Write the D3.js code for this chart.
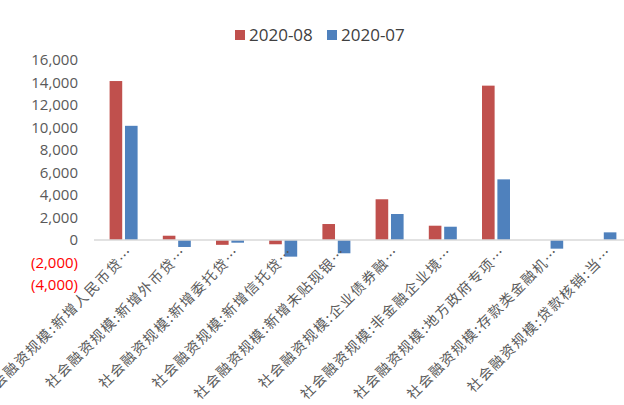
<!DOCTYPE html>
<html>
<head>
<meta charset="utf-8">
<script src="https://cdn.jsdelivr.net/npm/d3@7"></script>
<style>
  html, body { margin: 0; padding: 0; background: #fff; }
  svg { display: block; }
</style>
</head>
<body>
<svg id="chart" width="624" height="405"></svg>
<script>
const categories = [
  "社会融资规模:新增人民币贷…",
  "社会融资规模:新增外币贷…",
  "社会融资规模:新增委托贷…",
  "社会融资规模:新增信托贷…",
  "社会融资规模:新增未贴现银…",
  "社会融资规模:企业债券融…",
  "社会融资规模:非金融企业境…",
  "社会融资规模:地方政府专项…",
  "社会融资规模:存款类金融机…",
  "社会融资规模:贷款核销:当…"
];
const seriesNames = ["2020-08", "2020-07"];
const values0808 = [14130, 380, -430, -380, 1420, 3620, 1270, 13720, 0, 0];
const values0807 = [10150, -620, -240, -1480, -1180, 2310, 1180, 5390, -770, 680];
const yTicks = [-4000, -2000, 0, 2000, 4000, 6000, 8000, 10000, 12000, 14000, 16000];
const colors = ["#C0504D", "#4F81BD"];

const seriesValues = [values0808, values0807];
const svg = d3.select("#chart");

const x0 = d3.scaleBand().domain(categories).range([97, 629]).padding(0);
const groupW = 28;
const x1 = d3.scaleBand().domain(seriesNames).range([0, groupW]).paddingInner(0.18);
const y = d3.scaleLinear().domain([-4000, 16000]).range([285, 60]);

const fmt = d3.format(",");
const tickFmt = v => v < 0 ? "(" + fmt(-v) + ")" : fmt(v);

// y axis
const yAxis = d3.axisLeft(y).tickValues(yTicks).tickFormat(tickFmt).tickSize(0).tickPadding(0);
const yg = svg.append("g").attr("transform", "translate(78,0)").call(yAxis);
yg.select(".domain").remove();
yg.selectAll("text")
  .attr("font-family", "'Open Sans', sans-serif")
  .attr("font-size", 15)
  .attr("fill", d => d < 0 ? "#FF0000" : "#595959");

// bars
const groups = svg.append("g").selectAll("g")
  .data(categories)
  .join("g")
  .attr("transform", c => `translate(${x0(c) + (x0.bandwidth() - groupW) / 2},0)`);

groups.selectAll("rect")
  .data((c, i) => seriesNames.map((s, k) => ({ s, k, v: seriesValues[k][i] })))
  .join("rect")
  .filter(d => d.v !== 0)
  .attr("x", d => x1(d.s))
  .attr("width", x1.bandwidth())
  .attr("y", d => y(Math.max(0, d.v)))
  .attr("height", d => Math.abs(y(d.v) - y(0)))
  .attr("fill", d => colors[d.k]);

// zero axis line
const xAxis = d3.axisBottom(x0).tickSize(0).tickPadding(0);
const xg = svg.append("g").attr("transform", `translate(0,${y(0)})`).call(xAxis);
xg.select(".domain").attr("stroke", "#D9D9D9").attr("stroke-width", 1.5)
  .attr("d", "M94,0H624");
xg.selectAll(".tick text")
  .attr("font-family", "'Noto Sans CJK SC', sans-serif")
  .attr("font-size", 14)
  .attr("letter-spacing", 1.6)
  .attr("fill", "#595959")
  .attr("text-anchor", "end")
  .attr("dy", 0)
  .attr("transform", "translate(11,13) rotate(-45)");

// legend
const legend = svg.append("g");
const legX = [235, 327];
seriesNames.forEach((s, k) => {
  legend.append("rect").attr("x", legX[k]).attr("y", 30).attr("width", 10).attr("height", 10).attr("fill", colors[k]);
  legend.append("text").attr("x", legX[k] + 14).attr("y", 41)
    .attr("font-family", "'Open Sans', sans-serif").attr("font-size", 17)
    .attr("fill", "#404040").text(s);
});
</script>
</body>
</html>
